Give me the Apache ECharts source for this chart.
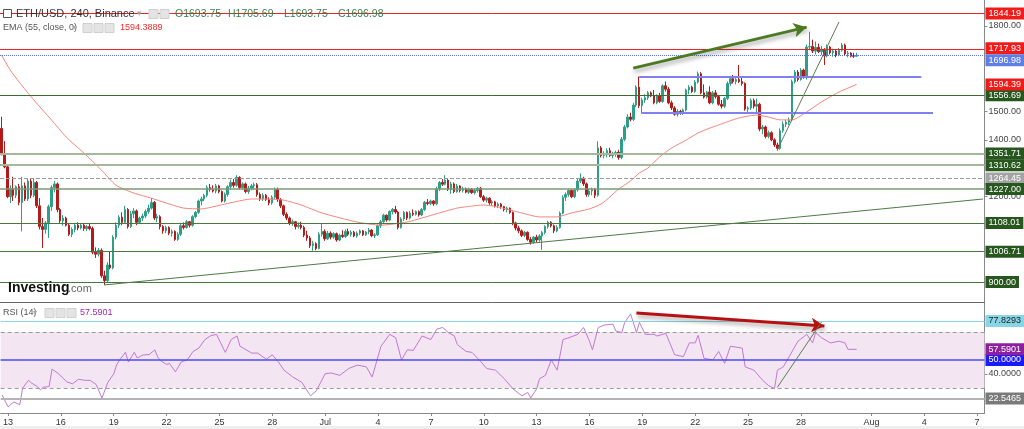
<!DOCTYPE html>
<html><head><meta charset="utf-8">
<script src="https://cdn.jsdelivr.net/npm/echarts@6/dist/echarts.min.js"></script>
<style>html,body{margin:0;padding:0;background:#fff}#c{width:1024px;height:429px}</style>
</head><body><div id="c"></div>
<script>
// ---------- DATA ----------
// 4h candles [open, high, low, close], starting 2022-06-12 16:00
const ohlc = [
[1440,1481,1345,1352],[1352,1395,1300,1305],[1305,1312,1195,1200],[1200,1240,1178,1228],[1228,1270,1185,1205],[1205,1240,1195,1235],
[1235,1245,1170,1180],[1180,1270,1078,1238],[1238,1250,1185,1192],[1192,1262,1185,1255],[1255,1262,1195,1205],[1205,1265,1198,1250],
[1250,1255,1160,1168],[1168,1195,1085,1095],[1095,1125,1020,1085],[1085,1115,1070,1108],[1108,1172,1055,1165],[1165,1240,1150,1232],
[1232,1255,1215,1245],[1245,1250,1145,1155],[1155,1160,1108,1115],[1115,1135,1098,1125],[1125,1130,1095,1100],[1100,1108,1062,1068],
[1068,1092,1058,1085],[1085,1108,1075,1100],[1100,1110,1082,1090],[1090,1106,1085,1100],[1100,1105,1080,1088],[1088,1100,1080,1095],
[1095,1104,1082,1088],[1088,1095,998,1005],[1005,1022,985,998],[998,1020,990,1012],[1012,1018,915,922],[922,940,890,905],
[905,970,900,960],[960,1007,945,950],[950,1065,945,1058],[1058,1110,1050,1100],[1100,1135,1090,1128],[1128,1145,1100,1110],
[1110,1168,1105,1155],[1155,1160,1088,1095],[1095,1150,1090,1140],[1140,1160,1125,1150],[1150,1155,1100,1110],[1110,1130,1105,1125],
[1125,1140,1115,1132],[1132,1155,1125,1148],[1148,1172,1140,1160],[1160,1195,1155,1180],[1180,1185,1118,1125],[1125,1140,1110,1130],
[1130,1135,1085,1095],[1095,1100,1070,1080],[1080,1098,1072,1092],[1092,1096,1065,1072],[1072,1085,1060,1078],[1078,1082,1045,1050],
[1050,1075,1045,1068],[1068,1105,1062,1098],[1098,1110,1085,1092],[1092,1118,1088,1112],[1112,1115,1092,1100],[1100,1135,1095,1130],
[1130,1150,1125,1145],[1145,1190,1140,1185],[1185,1200,1170,1192],[1192,1210,1185,1205],[1205,1240,1198,1232],[1232,1245,1218,1225],
[1225,1240,1215,1220],[1220,1245,1212,1238],[1238,1242,1212,1218],[1218,1222,1180,1185],[1185,1215,1180,1208],[1208,1240,1200,1235],
[1235,1260,1225,1250],[1250,1262,1232,1240],[1240,1276,1235,1268],[1268,1272,1225,1232],[1232,1250,1225,1245],[1245,1250,1212,1218],
[1218,1238,1210,1230],[1230,1245,1222,1238],[1238,1250,1225,1242],[1242,1248,1200,1208],[1208,1215,1185,1192],[1192,1212,1185,1205],
[1205,1210,1185,1190],[1190,1198,1170,1178],[1178,1205,1172,1198],[1198,1232,1192,1225],[1225,1232,1182,1190],[1190,1195,1160,1168],
[1168,1172,1132,1138],[1138,1145,1118,1125],[1125,1130,1100,1108],[1108,1120,1098,1112],[1112,1115,1085,1095],[1095,1110,1088,1100],
[1100,1112,1085,1092],[1092,1098,1058,1065],[1065,1080,1045,1055],[1055,1062,1020,1028],[1028,1045,1010,1035],[1035,1040,1012,1018],
[1018,1075,1015,1068],[1068,1106,1060,1078],[1078,1085,1045,1052],[1052,1080,1048,1072],[1072,1078,1050,1058],[1058,1075,1052,1070],
[1070,1074,1042,1048],[1048,1070,1044,1065],[1065,1082,1055,1060],[1060,1085,1055,1078],[1078,1088,1062,1068],[1068,1082,1060,1075],
[1075,1080,1058,1062],[1062,1078,1056,1072],[1072,1085,1065,1080],[1080,1083,1062,1066],[1066,1080,1062,1076],[1076,1090,1068,1083],
[1083,1086,1058,1063],[1063,1072,1055,1066],[1066,1102,1062,1098],[1098,1118,1090,1112],[1112,1140,1105,1135],[1135,1138,1112,1118],
[1118,1152,1114,1148],[1148,1160,1138,1155],[1155,1168,1140,1146],[1146,1150,1085,1092],[1092,1128,1088,1122],[1122,1150,1115,1145],
[1145,1148,1118,1125],[1125,1150,1120,1142],[1142,1155,1132,1138],[1138,1152,1134,1148],[1148,1152,1130,1136],[1136,1160,1132,1155],
[1155,1185,1150,1180],[1180,1192,1170,1176],[1176,1190,1170,1185],[1185,1188,1168,1175],[1175,1235,1170,1228],[1228,1255,1220,1250],
[1250,1262,1238,1244],[1244,1276,1240,1258],[1258,1262,1220,1226],[1226,1252,1210,1245],[1245,1250,1212,1218],[1218,1245,1214,1238],
[1238,1240,1215,1222],[1222,1235,1215,1228],[1228,1232,1212,1216],[1216,1232,1210,1226],[1226,1230,1210,1214],[1214,1228,1208,1222],
[1222,1234,1215,1230],[1230,1234,1196,1200],[1200,1206,1182,1188],[1188,1200,1180,1195],[1195,1198,1172,1178],[1178,1188,1168,1182],
[1182,1186,1162,1168],[1168,1180,1160,1174],[1174,1178,1158,1165],[1165,1168,1148,1155],[1155,1165,1145,1160],[1160,1162,1140,1145],
[1145,1148,1100,1108],[1108,1112,1082,1090],[1090,1098,1072,1080],[1080,1085,1058,1064],[1064,1080,1058,1075],[1075,1078,1045,1050],
[1050,1058,1032,1040],[1040,1062,1035,1058],[1058,1066,1040,1048],[1048,1068,1042,1062],[1062,1080,1013,1074],[1074,1100,1068,1095],
[1095,1115,1088,1110],[1110,1114,1092,1098],[1098,1102,1072,1080],[1080,1100,1075,1092],[1092,1148,1088,1142],[1142,1205,1138,1198],
[1198,1215,1185,1208],[1208,1228,1200,1222],[1222,1226,1195,1200],[1200,1230,1195,1224],[1224,1262,1218,1255],[1255,1282,1248,1265],
[1265,1270,1238,1245],[1245,1250,1200,1208],[1208,1228,1200,1220],[1220,1232,1205,1226],[1226,1230,1195,1205],[1205,1395,1200,1372],
[1372,1378,1338,1345],[1345,1360,1335,1350],[1350,1370,1338,1362],[1362,1372,1340,1345],[1345,1358,1335,1352],[1352,1362,1340,1356],
[1356,1365,1330,1338],[1338,1410,1332,1402],[1402,1452,1395,1445],[1445,1490,1440,1480],[1480,1495,1465,1472],[1472,1530,1466,1522],
[1522,1592,1515,1585],[1585,1622,1512,1520],[1520,1548,1492,1540],[1540,1560,1530,1548],[1548,1572,1540,1565],[1565,1570,1550,1555],
[1555,1575,1525,1530],[1530,1560,1525,1555],[1555,1565,1530,1535],[1535,1595,1530,1590],[1590,1605,1570,1578],[1578,1585,1525,1530],
[1530,1538,1505,1512],[1512,1518,1485,1490],[1490,1508,1482,1500],[1500,1506,1488,1495],[1495,1510,1488,1505],[1505,1580,1500,1575],
[1575,1592,1560,1585],[1585,1590,1565,1570],[1570,1610,1565,1603],[1603,1640,1598,1632],[1632,1638,1560,1565],[1565,1595,1545,1550],
[1550,1572,1545,1568],[1568,1588,1525,1530],[1530,1572,1525,1565],[1565,1575,1545,1552],[1552,1558,1520,1525],[1525,1540,1510,1518],
[1518,1550,1512,1545],[1545,1605,1540,1598],[1598,1625,1590,1615],[1615,1628,1598,1605],[1605,1625,1595,1612],[1612,1663,1600,1605],
[1605,1618,1590,1598],[1598,1602,1502,1508],[1508,1518,1498,1512],[1512,1545,1505,1538],[1538,1545,1510,1518],[1518,1545,1490,1525],
[1525,1530,1430,1438],[1438,1452,1420,1445],[1445,1450,1405,1412],[1412,1432,1405,1425],[1425,1430,1395,1400],[1400,1405,1375,1382],
[1382,1390,1362,1370],[1370,1440,1365,1432],[1432,1465,1425,1455],[1455,1470,1445,1462],[1462,1478,1452,1470],[1470,1612,1465,1604],
[1604,1645,1598,1638],[1638,1645,1605,1612],[1612,1652,1608,1645],[1645,1650,1615,1620],[1620,1735,1612,1726],[1726,1780,1715,1728],
[1728,1752,1705,1712],[1712,1745,1700,1725],[1725,1738,1705,1710],[1710,1730,1698,1718],[1718,1722,1663,1695],[1695,1735,1690,1726],
[1726,1730,1700,1706],[1706,1720,1692,1712],[1712,1716,1690,1698],[1698,1722,1694,1715],[1715,1740,1710,1733],[1733,1738,1698,1702],
[1702,1712,1690,1705],[1705,1708,1690,1694],[1694,1706,1688,1693.75],[1693.75,1705.69,1693.75,1696.98]
];
// EMA(55): [candle index, value]
const emaPoints = [[0,1698],[3,1645],[6,1603],[11,1540],[17,1470],[22,1410],[28,1354],[34,1294],[39,1240],[45,1213],[51,1195],[56,1178],[62,1160],[68,1157],[73,1167],[79,1181],[85,1192],[90,1192],[96,1188],[102,1171],[109,1143],[121,1111],[129,1100],[138,1111],[143,1125],[149,1143],[155,1160],[160,1167],[164,1171],[169,1164],[177,1143],[183,1129],[189,1129],[194,1143],[200,1157],[204,1174],[207,1199],[210,1227],[214,1255],[217,1283],[220,1301],[224,1340],[228,1371],[233,1399],[237,1424],[241,1441],[244,1452],[251,1477],[257,1487],[261,1480],[265,1470],[269,1470],[274,1498],[279,1533],[285,1568],[291,1594.39]];
// RSI(14): [candle index, value]
const rsiPoints = [[0,25],[2,16.5],[4,20],[6,18],[7,30],[9,35.5],[10,33.5],[12,31],[13,28.6],[14,30.5],[16,31],[17,43.5],[19,40.5],[21,36.5],[22,34.3],[24,33],[26,36.2],[28,35.5],[30,35.4],[32,32.5],[34,22.8],[36,34],[38,40],[39,46.5],[40,50],[42,55.5],[43,48.5],[45,55.5],[46,51.4],[48,53.6],[50,53.8],[52,57.2],[53,52],[54,49.5],[56,46.8],[57,47.5],[59,41.5],[61,48.6],[63,50],[65,56],[67,58.5],[69,64.5],[71,67.3],[73,68.3],[76,55.4],[78,64.6],[80,67.1],[81,59.8],[85,54.9],[87,54.9],[90,50.5],[92,53.7],[94,48.8],[96,42.7],[99,37.8],[102,34.1],[105,24.4],[107,28],[110,40.2],[112,40.7],[115,39],[118,43.9],[121,46.3],[124,45.1],[126,37.8],[129,59.8],[132,68.3],[134,65.9],[136,50],[138,57.3],[140,56.8],[143,67.1],[146,64.6],[148,72],[150,73.2],[152,69.5],[154,67.1],[155,61],[158,56.1],[160,55.4],[163,48.8],[165,43.9],[168,42.7],[171,36.6],[174,29.3],[177,24.4],[179,26.8],[180,22.8],[182,29.3],[183,36.6],[185,39],[187,50],[189,42.7],[191,64.6],[193,65.9],[196,68.3],[198,73.2],[200,63.4],[201,57.3],[203,73.2],[205,74.9],[208,75.6],[209,70.7],[211,69.5],[212,76.8],[214,82.9],[216,69.5],[217,76.8],[219,68.3],[222,68.3],[223,67.1],[226,69],[229,53.7],[232,52.4],[234,62.2],[236,62.2],[237,67.6],[239,51.2],[242,50],[244,56.1],[246,47.6],[248,59.8],[252,58.5],[253,45.1],[256,42.7],[259,35.4],[261,31.7],[263,29.5],[264,42.7],[266,45.1],[268,52.4],[271,63.4],[274,68.3],[276,62.2],[277,69.5],[279,65.9],[282,62.2],[285,63.4],[287,62.2],[288,57.6],[291,57.59]];

const priceLevels = [1844.19, 1717.93, 1696.98, 1556.69, 1351.71, 1310.62, 1264.45, 1227.00, 1108.01, 1006.71, 900.00];
const emaLast = 1594.3889;
const boxLevels = [1620, 1494];
const boxFrom = [217, 218];
const boxTo = [313, 317];
const supportLine = [[35, 890], [334, 1192]];
const riseLine = [[264, 1364], [285, 1814]];
const priceArrow = [[215, 1652], [274, 1796]];
const rsiLevels = [77.8293, 50, 22.5465];
const rsiBand = [30, 70];
const rsiLast = 57.5901;
const rsiArrow = [[216, 83.6], [280, 74.3]];
const rsiRise = [[264, 30.5], [279, 77.1]];
const priceTicks = [1200, 1400, 1500, 1800];
const rsiTicks = [40];
const tickDates = ['06-13','06-16','06-19','06-22','06-25','06-28','07-01','07-04','07-07','07-10','07-13','07-16','07-19','07-22','07-25','07-28','08-01','08-04','08-07'];
const tickLabels = ['13','16','19','22','25','28','Jul','4','7','10','13','16','19','22','25','28','Aug','4','7'];

// ---------- AXIS SLOTS ----------
const START = Date.UTC(2022, 5, 12, 16);
const SLOTS = 335;
const pad = n => (n < 10 ? '0' : '') + n;
const categories = [];
for (let k = 0; k < SLOTS; k++) {
  const d = new Date(START + k * 4 * 3600e3);
  categories.push(pad(d.getUTCMonth() + 1) + '-' + pad(d.getUTCDate()) + ' ' + pad(d.getUTCHours()));
}
const tickMap = {};
tickDates.forEach((d, j) => { tickMap[d + ' 00'] = tickLabels[j]; });
const isTick = (i, v) => Object.prototype.hasOwnProperty.call(tickMap, v);

// ---------- STYLES ----------
const FONT = 'Arial';
const UP = '#2e9f86', DOWN = '#b31b1b';
const G_DARK = '#4c7641', G_LIGHT = '#a5b89b', BOX_G = '#27561f';
const CLEAR = 'rgba(255,255,255,0)';
const levelStyle = [
  {line: {color: '#e82424', width: 1, type: 'solid'}, bg: '#f01c1c', fg: '#fff', dy: 0},
  {line: {color: '#e82424', width: 1, type: 'solid'}, bg: '#f01c1c', fg: '#fff', dy: -1},
  {line: {color: '#5a74e6', width: 1, type: 'dotted'}, bg: '#5f7fe6', fg: '#fff', dy: 5},
  {line: {color: '#3e6a34', width: 1, type: 'solid'}, bg: BOX_G, fg: '#fff', dy: 0},
  {line: {color: G_LIGHT, width: 2, type: 'solid'}, bg: BOX_G, fg: '#fff', dy: 0},
  {line: {color: G_LIGHT, width: 2, type: 'solid'}, bg: BOX_G, fg: '#fff', dy: 0},
  {line: {color: '#9a9a9a', width: 1, type: 'dashed'}, bg: '#a3a3a3', fg: '#fff', dy: 0},
  {line: {color: '#7e9a72', width: 1.5, type: 'solid'}, bg: BOX_G, fg: '#fff', dy: 0},
  {line: {color: G_DARK, width: 1, type: 'solid'}, bg: BOX_G, fg: '#fff', dy: 0},
  {line: {color: G_DARK, width: 1, type: 'solid'}, bg: BOX_G, fg: '#fff', dy: 0},
  {line: {color: G_DARK, width: 1, type: 'solid'}, bg: BOX_G, fg: '#fff', dy: 0}
];
const rsiStyle = [
  {line: {color: '#86d6e6', width: 1, type: 'solid'}, bg: '#86d6e6', fg: '#222'},
  {line: {color: '#4a4af5', width: 1.5, type: 'solid'}, bg: '#1a1aff', fg: '#fff'},
  {line: {color: '#b4b4b4', width: 2, type: 'solid'}, bg: '#7a7a7a', fg: '#fff'}
];
const boxLabel = (txt, bg, fg, dy) => ({show: true, position: 'end', distance: 1, formatter: txt, backgroundColor: bg, color: fg,
  fontSize: 9, fontFamily: FONT, padding: [2, 3, 1, 3], lineHeight: 9, offset: [0, dy || 0]});
const seg = (p, style, arrow) => [
  {coord: p[0], symbol: 'none', lineStyle: style},
  {coord: p[1], symbol: arrow ? 'arrow' : 'none', symbolSize: arrow ? [11, 13] : 0, lineStyle: style, label: {show: false}}
];
const shadow = {shadowColor: 'rgba(0,0,0,0.35)', shadowBlur: 4, shadowOffsetX: 1, shadowOffsetY: 3};

const mainMarks = priceLevels.map((v, j) => ({
  yAxis: v, lineStyle: levelStyle[j].line, label: boxLabel(v.toFixed(2), levelStyle[j].bg, levelStyle[j].fg, levelStyle[j].dy)
}));
boxLevels.forEach((v, j) => mainMarks.push(seg([[boxFrom[j], v], [boxTo[j], v]], {color: '#8080f2', width: 2, type: 'solid'})));
mainMarks.push(seg(supportLine, {color: '#4f7a45', width: 1, type: 'solid'}));
mainMarks.push(seg(riseLine, {color: '#5c7d52', width: 1, type: 'solid'}));
mainMarks.push(seg(priceArrow, Object.assign({color: '#4b7a22', width: 3, type: 'solid'}, shadow), true));

const rsiMarks = rsiLevels.map((v, j) => ({
  yAxis: v, lineStyle: rsiStyle[j].line, label: boxLabel(v.toFixed(4), rsiStyle[j].bg, rsiStyle[j].fg)
}));
rsiBand.forEach(v => rsiMarks.push({yAxis: v, lineStyle: {color: '#9a9a9a', width: 1, type: [4, 3]}, label: {show: false}}));
rsiMarks.push({yAxis: rsiLast, lineStyle: {color: CLEAR, width: 1}, label: boxLabel(rsiLast.toFixed(4), '#8e1f9e', '#fff')});
rsiMarks.push(seg(rsiArrow, Object.assign({color: '#b81010', width: 3, type: 'solid'}, shadow), true));
rsiMarks.push(seg(rsiRise, {color: '#5c7d52', width: 1, type: 'solid'}));

const last = ohlc[ohlc.length - 1];
const fmt = v => v.toFixed(2);

const hdr = [];
const txt = (x, y, t, size, fill, extra) => hdr.push({type: 'text', x: x, y: y, silent: true, z: 100,
  style: Object.assign({text: t, fontSize: size, fontFamily: FONT, fill: fill, verticalAlign: 'middle'}, extra || {})});
const icon = (x, y) => hdr.push({type: 'rect', silent: true, z: 100, shape: {x: x, y: y, width: 9, height: 9}, style: {fill: '#e4e4e4', stroke: '#d0d0d0'}});
hdr.push({type: 'rect', silent: true, z: 100, shape: {x: 3.5, y: 9.5, width: 8, height: 8}, style: {fill: '#fff', stroke: '#555', lineWidth: 1}});
txt(16, 14, 'ETH/USD, 240, Binance', 11, '#333');
txt(137, 14, '▾', 9, '#aaa');
icon(149, 9.5); icon(160, 9.5);
txt(175, 14, 'O' + fmt(last[0]), 10.5, '#3e7d4e');
txt(228, 14, 'H' + fmt(last[1]), 10.5, '#3e7d4e');
txt(284, 14, 'L' + fmt(last[2]), 10.5, '#3e7d4e');
txt(338, 14, 'C' + fmt(last[3]), 10.5, '#3e7d4e');
txt(3, 28, 'EMA (55, close, 0)', 9, '#555');
txt(72, 28, '▾', 8, '#aaa');
icon(83, 23.5); icon(94, 23.5); icon(105, 23.5);
txt(120, 28, emaLast.toFixed(4), 9, '#ff2a2a');
txt(3, 313, 'RSI (14)', 9, '#555');
txt(33, 313, '▾', 8, '#aaa');
icon(45, 308.5); icon(56, 308.5); icon(67, 308.5);
txt(80, 313, rsiLast.toFixed(4), 9, '#9c27b0');
txt(8, 288, 'Investing', 14, '#111', {fontWeight: 'bold'});
txt(68, 289, '.com', 11, '#666');
hdr.push({type: 'rect', silent: true, z: -1, shape: {x: 0, y: 426, width: 1024, height: 3}, style: {fill: '#efefef'}});

const chart = echarts.init(document.getElementById('c'), null, {renderer: 'canvas'});
chart.setOption({
  animation: false,
  backgroundColor: '#fff',
  textStyle: {fontFamily: FONT},
  grid: [
    {left: 0, right: 39, top: 0, height: 302},
    {left: 0, right: 39, top: 303, bottom: 16}
  ],
  xAxis: [
    {type: 'category', gridIndex: 0, data: categories, boundaryGap: true,
      axisLine: {show: true, lineStyle: {color: '#666', width: 1}}, axisTick: {show: false}, axisLabel: {show: false}, splitLine: {show: false}},
    {type: 'category', gridIndex: 1, data: categories, boundaryGap: true,
      axisLine: {show: true, lineStyle: {color: '#888', width: 1}},
      axisTick: {show: true, interval: isTick, alignWithLabel: true, length: 3, lineStyle: {color: '#888'}},
      axisLabel: {show: true, interval: isTick, formatter: v => tickMap[v] || '', fontSize: 9, color: '#333', margin: 5, fontFamily: FONT},
      splitLine: {show: false}}
  ],
  yAxis: [
    {type: 'value', gridIndex: 0, position: 'right', min: 830, max: 1891.4, scale: true,
      axisLine: {show: true, lineStyle: {color: '#888'}},
      axisTick: {show: true, length: 3, customValues: priceTicks, lineStyle: {color: '#888'}},
      axisLabel: {show: true, customValues: priceTicks, formatter: v => v.toFixed(2), fontSize: 9, color: '#444', margin: 4, fontFamily: FONT},
      splitLine: {show: false}},
    {type: 'value', gridIndex: 1, position: 'right', min: 12.1, max: 90.7,
      axisLine: {show: true, lineStyle: {color: '#888'}},
      axisTick: {show: true, length: 3, customValues: rsiTicks, lineStyle: {color: '#888'}},
      axisLabel: {show: true, customValues: rsiTicks, formatter: v => v.toFixed(4), fontSize: 9, color: '#444', margin: 4, fontFamily: FONT},
      splitLine: {show: false}}
  ],
  series: [
    {type: 'candlestick', xAxisIndex: 0, yAxisIndex: 0, barWidth: 2,
      data: ohlc.map(r => [r[0], r[3], r[2], r[1]]),
      itemStyle: {color: UP, color0: DOWN, borderColor: UP, borderColor0: DOWN, borderWidth: 1},
      markLine: {silent: true, symbol: ['none', 'none'], animation: false, lineStyle: {type: 'solid'}, data: mainMarks}},
    {type: 'line', xAxisIndex: 0, yAxisIndex: 0, data: emaPoints, symbol: 'none', smooth: 0.2,
      lineStyle: {color: '#f3857c', width: 1}, z: 3,
      markLine: {silent: true, symbol: ['none', 'none'], animation: false,
        data: [{yAxis: 1594.39, lineStyle: {color: CLEAR, width: 1}, label: boxLabel('1594.39', '#f01c1c', '#fff')}]}},
    {type: 'line', xAxisIndex: 1, yAxisIndex: 1, data: rsiPoints, symbol: 'none',
      lineStyle: {color: '#c07ad2', width: 1}, z: 4,
      markArea: {silent: true, itemStyle: {color: '#f3e5f2'}, data: [[{yAxis: rsiBand[0]}, {yAxis: rsiBand[1]}]]},
      markLine: {silent: true, symbol: ['none', 'none'], animation: false, lineStyle: {type: 'solid'}, data: rsiMarks}}
  ],
  graphic: hdr
});
</script></body></html>
